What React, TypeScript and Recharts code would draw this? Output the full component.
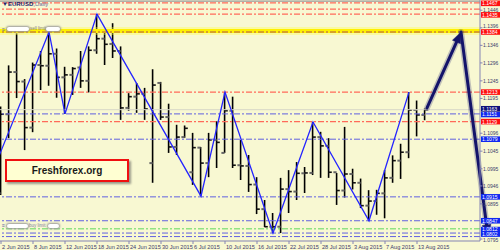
import React from 'react';
import { ComposedChart, Bar, Line, XAxis, YAxis, ReferenceLine } from 'recharts';

const dateLabels = ['2 Jun 2015','8 Jun 2015','12 Jun 2015','18 Jun 2015','24 Jun 2015','30 Jun 2015','6 Jul 2015','10 Jul 2015','16 Jul 2015','22 Jul 2015','28 Jul 2015','3 Aug 2015','7 Aug 2015','13 Aug 2015'];
const dateTickIdx = [0,4,8,12,16,20,24,28,32,36,40,44,48,52];

const opens  = [1.0925,1.1150,1.1270,1.1243,1.1112,1.1290,1.1288,1.1322,1.1255,1.1262,1.1283,1.1245,1.1332,1.1365,1.1350,1.1330,1.1168,1.1200,1.1208,1.1011,1.1239,1.1142,1.1057,1.1085,1.0985,1.1055,1.1011,1.1077,1.1040,1.1160,1.1005,1.1003,1.0950,1.0880,1.0830,1.0830,1.0937,1.0930,1.0982,1.0983,1.1085,1.1060,1.0985,1.0933,1.0980,1.0955,1.0890,1.0903,1.0925,1.0969,1.1018,1.1042,1.1162,1.1148];
const highs  = [1.1172,1.1289,1.1380,1.1250,1.1297,1.1330,1.1384,1.1337,1.1285,1.1284,1.1330,1.1343,1.1435,1.1385,1.1409,1.1343,1.1210,1.1239,1.1225,1.1278,1.1242,1.1180,1.1120,1.1118,1.1097,1.1057,1.1097,1.1130,1.1213,1.1200,1.1077,1.1034,1.0971,1.0906,1.0869,1.0969,1.0991,1.1014,1.1000,1.1128,1.1100,1.1082,1.0983,1.1114,1.0995,1.0967,1.0934,1.0935,1.0991,1.1033,1.1066,1.1213,1.1189,1.1166];
const lows   = [1.0920,1.1082,1.1196,1.1048,1.1099,1.1219,1.1231,1.1197,1.1151,1.1205,1.1225,1.1212,1.1322,1.1290,1.1310,1.1134,1.1160,1.1154,1.1134,1.0955,1.1134,1.1040,1.1034,1.1083,1.0949,1.0917,1.0971,1.0997,1.1040,1.0997,1.0963,1.0929,1.0866,1.0829,1.0812,1.0812,1.0869,1.0906,1.0926,1.0977,1.0969,1.0969,1.0892,1.0913,1.0936,1.0883,1.0847,1.0864,1.0854,1.0955,1.0966,1.1025,1.1087,1.1133];
const closes = [1.1150,1.1270,1.1243,1.1112,1.1290,1.1288,1.1322,1.1255,1.1262,1.1280,1.1245,1.1332,1.1365,1.1349,1.1330,1.1168,1.1200,1.1208,1.1165,1.1233,1.1142,1.1057,1.1085,1.1110,1.1055,1.1011,1.1077,1.1070,1.1160,1.1005,1.1003,1.0950,1.0880,1.0830,1.0830,1.0937,1.0930,1.0982,1.0983,1.1085,1.1060,1.0985,1.0933,1.0980,1.0955,1.0890,1.0903,1.0925,1.0969,1.1018,1.1042,1.1162,1.1148,1.1163];

const zigzagIdx = [-4, 6, 8, 12, 25, 28, 34, 39, 46, 51];
const zigzagVal = [1.0819, 1.1384, 1.1151, 1.1435, 1.0917, 1.1213, 1.0812, 1.1128, 1.0847, 1.1213];

const arrowIdx = [53.25, 57.5, 60.875];
const arrowVal = [1.1168, 1.1384, 1.0804];

const redLevels = [1.1467, 1.1449, 1.1435, 1.1384, 1.1213, 1.1129];
const blueLevels = [1.1151, 1.1079, 1.0915, 1.0847, 1.0812, 1.0802];
const greenLevels = [1.0824];
const yellowLevel = 1.1387;
const bidLevel = 1.1163;
const topLevel = 1.1472;

const axisTicks = [1.1446, 1.1396, 1.1346, 1.1296, 1.1245, 1.1195, 1.1096, 1.1045, 1.0995, 1.0946, 1.0895, 1.0795];
const redBoxes = [1.1467, 1.1435, 1.1384, 1.1213, 1.1129];
const blueBoxes = [1.1151, 1.1079, 1.0915, 1.0847, 1.0812, 1.0802];
const navyBoxes = [1.1163];

const bars = opens.map((o, k) => ({ i: k, o, h: highs[k], l: lows[k], c: closes[k] }));
const zigzag = zigzagIdx.map((i, k) => ({ i, v: zigzagVal[k] }));

const BG = '#F8F8D2';
const AXIS = '#8484B4';
const TXT = '#3C3C6C';
const FONT = '"Liberation Sans", Arial, sans-serif';

// small label nudges (pixels) to keep crowded price tags readable, like the terminal does
const labelNudge = (v: number): number => {
  if (v === 1.0812) return -3.5;
  if (v === 1.0802) return -2.5;
  if (v === 1.0795) return 1.5;
  if (v === 1.1435) return 0.8;
  if (v === 1.1467) return 0.5;
  if (v === 1.1163) return -0.9;
  if (v === 1.1151) return 0.6;
  if (v === 1.1396) return -1.3;
  return 0;
};

const OhlcShape = (p: any) => {
  const { x, y, width, height, payload } = p;
  if (x == null || y == null) return null;
  const top = Math.min(y, y + height);
  const bot = Math.max(y, y + height);
  const span = payload.h - payload.l || 1;
  const py = (v: number) => top + ((payload.h - v) / span) * (bot - top);
  const cx = x + width / 2;
  return (
    <g>
      <line x1={cx} x2={cx} y1={top} y2={bot} stroke="#000" strokeWidth={1.6} />
      <line x1={cx - 3.2} x2={cx} y1={py(payload.o)} y2={py(payload.o)} stroke="#666" strokeWidth={2} />
      <line x1={cx} x2={cx + 3.2} y1={py(payload.c)} y2={py(payload.c)} stroke="#111" strokeWidth={1.6} />
    </g>
  );
};

const ArrowShape = (p: any) => {
  const { x1, y1, x2, y2 } = p;
  if ([x1, y1, x2, y2].some((v) => v == null || isNaN(v))) return null;
  const dx = x2 - x1, dy = y2 - y1;
  const len = Math.sqrt(dx * dx + dy * dy) || 1;
  const ux = dx / len, uy = dy / len;
  const nx = -uy, ny = ux;
  const hl = 11, hw = 4.5;
  const bx = x2 - ux * hl, by = y2 - uy * hl;
  const pts = `${x2},${y2} ${bx + nx * hw},${by + ny * hw} ${bx - nx * hw},${by - ny * hw}`;
  return (
    <g>
      <line x1={x1} y1={y1} x2={bx} y2={by} stroke="#1a1a70" strokeOpacity={0.25} strokeWidth={6} strokeLinecap="round" />
      <line x1={x1} y1={y1} x2={bx} y2={by} stroke="#14146a" strokeWidth={3} strokeLinecap="round" />
      <polygon points={pts} fill="#14146a" stroke="#14146a" strokeWidth={1} strokeOpacity={0.4} />
    </g>
  );
};

const YTick = (p: any) => {
  const { payload } = p;
  const v: number = payload.value;
  const y = p.y + labelNudge(v);
  const txt = v.toFixed(4);
  let fill: string | null = null;
  if (redBoxes.includes(v)) fill = '#FF1010';
  else if (navyBoxes.includes(v)) fill = '#10107A';
  else if (blueBoxes.includes(v)) fill = '#1028F0';
  if (fill) {
    return (
      <g>
        <rect x={481} y={y - 2.8} width={19} height={5.6} fill={fill} />
        <text x={482} y={y + 1.9} fontSize={5.1} fontFamily={FONT} fill="#FFFFFF">{txt}</text>
      </g>
    );
  }
  return (
    <g>
      <line x1={480} x2={482.5} y1={p.y} y2={p.y} stroke={AXIS} strokeWidth={1} />
      <text x={483} y={y + 1.9} fontSize={5} fontFamily={FONT} fill={TXT}>{txt}</text>
    </g>
  );
};

const XTick = (p: any) => {
  const { x, payload } = p;
  const k = dateTickIdx.indexOf(payload.value);
  if (k < 0) return null;
  return (
    <g>
      <line x1={x} x2={x} y1={241} y2={244} stroke={AXIS} strokeWidth={1} />
      <text x={x + 1} y={248.5} fontSize={5.6} fontFamily={FONT} fill={TXT}>{dateLabels[k]}</text>
    </g>
  );
};

const Pill = ({ left, top, width }: { left: number; top: number; width: number }) => (
  <div style={{ position: 'absolute', left, top, width, height: 4, background: '#FFFFFF', borderRadius: 3, boxShadow: '0 0 2px 1px #9a9a9a' }} />
);

export default function App() {
  const dash = '6 2 2 2';
  return (
    <div style={{ position: 'absolute', left: 0, top: 0, width: 500, height: 250, background: BG, overflow: 'hidden' }}>
      <ComposedChart width={500} height={250} data={bars} margin={{ top: 0, right: 0, bottom: 0, left: 0 }}>
        <XAxis
          dataKey="i"
          type="number"
          domain={[-0.125, 59.875]}
          allowDataOverflow
          ticks={dateTickIdx}
          interval={0}
          height={9}
          tickLine={false}
          axisLine={{ stroke: AXIS }}
          tick={<XTick />}
        />
        <YAxis
          orientation="right"
          type="number"
          width={20}
          domain={[1.07894, 1.1475]}
          allowDataOverflow
          ticks={[...axisTicks, ...redBoxes, ...blueBoxes, ...navyBoxes]}
          interval={0}
          tickLine={false}
          axisLine={{ stroke: AXIS }}
          tick={<YTick />}
        />
        <ReferenceLine y={topLevel} stroke="#9a9a9a" strokeWidth={1.2} />
        <ReferenceLine y={yellowLevel} stroke="#FFFF40" strokeOpacity={0.35} strokeWidth={8} />
        <ReferenceLine y={yellowLevel} stroke="#FFF000" strokeWidth={4} />
        <ReferenceLine y={bidLevel} stroke="#D8D8C8" strokeWidth={1} />
        {redLevels.map((v) => (
          <ReferenceLine key={'r' + v} y={v} stroke={v === 1.1384 ? '#B05050' : '#FF6A5A'} strokeWidth={1.2} strokeDasharray={dash} />
        ))}
        {blueLevels.map((v) => (
          <ReferenceLine key={'b' + v} y={v} stroke="#6060E0" strokeWidth={1} strokeDasharray={dash} />
        ))}
        {greenLevels.map((v) => (
          <ReferenceLine key={'g' + v} y={v} stroke="#5ED85E" strokeWidth={1} strokeDasharray={dash} />
        ))}
        <Bar dataKey={(d: any) => [d.l, d.h]} barSize={8} shape={<OhlcShape />} isAnimationActive={false} />
        <Line data={zigzag} dataKey="v" type="linear" stroke="#2424FF" strokeWidth={1.3} dot={false} activeDot={false} isAnimationActive={false} />
        <ReferenceLine
          segment={[{ x: arrowIdx[0], y: arrowVal[0] }, { x: arrowIdx[1], y: arrowVal[1] }]}
          ifOverflow="visible"
          shape={ArrowShape}
        />
        <ReferenceLine
          segment={[{ x: arrowIdx[1], y: arrowVal[1] }, { x: arrowIdx[2], y: arrowVal[2] }]}
          ifOverflow="visible"
          shape={ArrowShape}
        />
      </ComposedChart>

      <div style={{ position: 'absolute', left: 2, top: 1, fontSize: 6, fontFamily: FONT, color: '#20206A', whiteSpace: 'nowrap' }}>
        ▼<span style={{ fontWeight: 'bold' }}>EURUSD</span>,<span style={{ color: '#7070A0' }}>Daily</span>
      </div>

      <div style={{ position: 'absolute', left: 2, top: 26, fontSize: 5, fontFamily: FONT, color: '#6060A0' }}>≡</div>
      <Pill left={7} top={27} width={22} />
      <div style={{ position: 'absolute', left: 30, top: 26, fontSize: 4.5, fontFamily: FONT, color: '#8080A0', whiteSpace: 'nowrap' }}>sell limit</div>
      <Pill left={46} top={27} width={14} />

      <div style={{ position: 'absolute', left: 2, top: 222, fontSize: 5, fontFamily: FONT, color: '#6060A0' }}>≡</div>
      <Pill left={7} top={224} width={21} />
      <div style={{ position: 'absolute', left: 29, top: 223, fontSize: 4.5, fontFamily: FONT, color: '#8080A0', whiteSpace: 'nowrap' }}>buy limit</div>
      <Pill left={48} top={224} width={11} />

      <div
        style={{
          position: 'absolute', left: 5, top: 159, width: 120, height: 19,
          background: '#FFFFD2', border: '2px solid #F01010',
          boxShadow: '2px 2px 2px #9a9a8a',
          display: 'flex', alignItems: 'center', justifyContent: 'center',
          fontFamily: FONT, fontWeight: 'bold', fontSize: 10, color: '#1a1a1a',
        }}
      >
        Freshforex.org
      </div>
    </div>
  );
}
